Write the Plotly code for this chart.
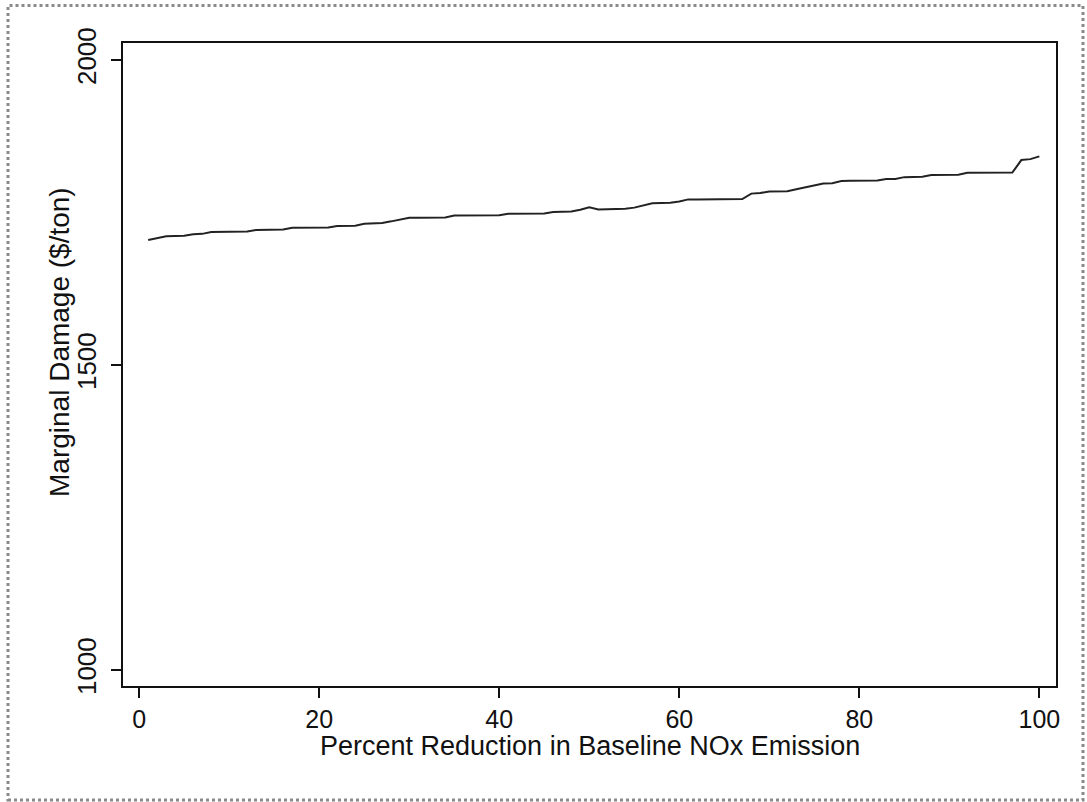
import plotly.graph_objects as go

# ---- data ----
pct_reduction = list(range(1, 101))
marginal_damage = [
    1705, 1708, 1711, 1711.5, 1712, 1714.5, 1715, 1718, 1718.5, 1718.5,
    1719, 1719, 1721.5, 1722, 1722, 1722, 1725, 1725, 1725, 1725.5,
    1725.5, 1728, 1728.5, 1728.5, 1731.5, 1732, 1733, 1735.5, 1738, 1741.5,
    1741.5, 1741.5, 1742, 1742, 1745, 1745, 1745.5, 1745.5, 1745.5, 1745.5,
    1748, 1748, 1748, 1748.5, 1748.5, 1751, 1751, 1751.5, 1754.5, 1758.5,
    1755, 1755, 1755, 1756, 1758, 1762, 1765, 1765.5, 1766, 1768,
    1771.5, 1771.5, 1771.5, 1772, 1772, 1772, 1772, 1781, 1782, 1784.5,
    1784.5, 1785, 1788, 1791, 1794.5, 1797.5, 1798, 1801.5, 1802, 1802,
    1802, 1802.5, 1805, 1805, 1808, 1808, 1808.5, 1811.5, 1812, 1812,
    1812, 1815, 1815, 1815, 1815.5, 1815.5, 1815.5, 1836, 1837.5, 1842,
]
x_ticks = [0, 20, 40, 60, 80, 100]
y_ticks = [1000, 1500, 2000]
x_title = "Percent Reduction in Baseline NOx Emission"
y_title = "Marginal Damage ($/ton)"

# ---- layout geometry (pixels) ----
W, H = 1087, 802
L, R, T, B = 123, 1056, 43, 686
pw, ph = R - L, B - T

def px_to_paper_x(px):
    return (px - L) / pw

def px_to_paper_y(py):
    return (B - py) / ph

FONT = "Liberation Sans, Arial, sans-serif"
INK = "#111111"

fig = go.Figure()
fig.add_trace(go.Scatter(
    x=pct_reduction, y=marginal_damage, mode="lines",
    line=dict(color="#222222", width=2), showlegend=False,
    hoverinfo="x+y",
))

fig.update_layout(
    width=W, height=H,
    margin=dict(l=L, r=W - R, t=T, b=H - B, pad=0),
    paper_bgcolor="white", plot_bgcolor="white",
    font=dict(family=FONT, size=25, color=INK),
    xaxis=dict(
        range=[-1.8, 101.85], tickmode="array", tickvals=x_ticks,
        ticktext=[str(v) for v in x_ticks],
        showgrid=False, zeroline=False,
        showline=True, linecolor=INK, linewidth=2, mirror=True,
        ticks="outside", ticklen=10, tickwidth=2, tickcolor=INK,
        tickfont=dict(family=FONT, size=25, color=INK),
    ),
    yaxis=dict(
        range=[973.8, 2027.9], tickmode="array", tickvals=y_ticks,
        ticktext=[str(v) for v in y_ticks],
        showgrid=False, zeroline=False,
        showline=True, linecolor=INK, linewidth=2, mirror=True,
        ticks="outside", ticklen=10, tickwidth=2, tickcolor=INK,
        tickangle=-90, ticklabelstandoff=5,
        tickfont=dict(family=FONT, size=26, color=INK),
    ),
    annotations=[
        dict(text=x_title, xref="paper", yref="paper",
             x=0.5, y=px_to_paper_y(746), xanchor="center", yanchor="middle",
             showarrow=False, font=dict(family=FONT, size=27, color=INK)),
        dict(text=y_title, xref="paper", yref="paper",
             x=px_to_paper_x(59), y=px_to_paper_y(342), xanchor="center",
             yanchor="middle", textangle=-90,
             showarrow=False, font=dict(family=FONT, size=28, color=INK)),
    ],
    shapes=[
        dict(type="rect", xref="paper", yref="paper",
             x0=px_to_paper_x(8), x1=px_to_paper_x(1083),
             y0=px_to_paper_y(800), y1=px_to_paper_y(5.5),
             line=dict(color="#8a8a8a", width=3, dash="dot"),
             fillcolor="rgba(0,0,0,0)", layer="below"),
    ],
)

fig.write_html(
    "out.html",
    config={"displayModeBar": False},
    post_script="document.body.style.margin='0';document.body.style.overflow='hidden';",
)
